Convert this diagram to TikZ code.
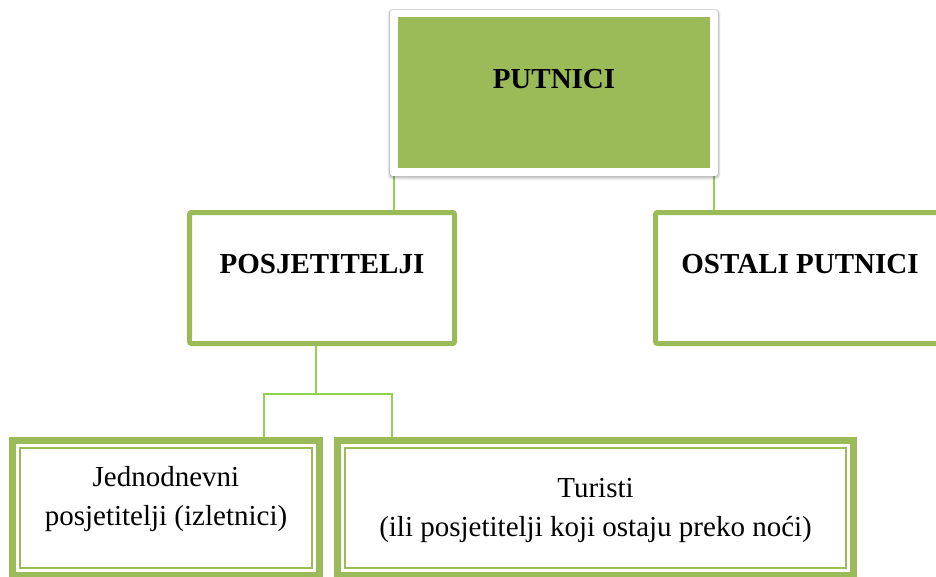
\documentclass[tikz,border=0pt]{standalone}
\usepackage{fontspec}
\setmainfont{Liberation Serif}
\usetikzlibrary{calc}
\definecolor{olivegr}{RGB}{155,187,89}
\definecolor{connc}{RGB}{146,208,80}
\pgfdeclarelayer{bg}
\pgfsetlayers{bg,main}
\tikzset{
  conline/.style={draw=connc, line width=1.5pt},
  midbox/.style={draw=olivegr, fill=white, line width=5pt, rounded corners=2pt, inner sep=0pt, outer sep=0pt, anchor=north west},
  lowbox/.style={draw=olivegr, fill=white, line width=7pt, inner sep=0pt, outer sep=0pt, anchor=north west},
  innerline/.style={draw=olivegr, line width=2pt},
  boldtxt/.style={font=\fontsize{29}{39}\selectfont\bfseries, anchor=base},
  plaintxt/.style={font=\fontsize{29}{39}\selectfont, anchor=base, align=center}
}
\begin{document}
\begin{tikzpicture}[x=1pt,y=-1pt]
\clip (0,0) rectangle (936,576);
\begin{pgfonlayer}{bg}
\fill[white] (0,0) rectangle (936,576);
\end{pgfonlayer}
% shadow of top box
\foreach \i/\o in {5/0.035,4/0.045,3/0.06,2/0.075,1/0.09} {
  \fill[black, opacity=\o, rounded corners=4pt] (390-0.5*\i,10-0.2*\i) rectangle (718+0.5*\i,176+0.9*\i);
}
% top box
\node[fill=white, rounded corners=3pt, inner sep=0pt, outer sep=0pt, minimum width=328pt, minimum height=166pt, anchor=north west] (putnici) at (390,10) {};
\node[fill=olivegr, inner sep=0pt, minimum width=312pt, minimum height=151pt, anchor=north west] (putfill) at (398,17) {};
\node[boldtxt] (puttxt) at (554,88) {PUTNICI};
% middle boxes
\node[midbox, minimum width=265pt, minimum height=131pt] (posj) at (189.5,212.5) {};
\node[boldtxt] (posjtxt) at (322,273) {POSJETITELJI};
\node[midbox, minimum width=300pt, minimum height=131pt] (ostali) at (655.5,212.5) {};
\node[boldtxt] (ostalitxt) at (800,273) {OSTALI PUTNICI};
% lower boxes
\node[lowbox, minimum width=307pt, minimum height=135pt] (jed) at (12.5,440) {};
\draw[innerline] ($(jed.north west)+(7.5,7.5)$) rectangle ($(jed.south east)+(-7.5,-7.5)$);
\node[plaintxt] (jedtxt) at (166,525) {Jednodnevni\\posjetitelji (izletnici)};
\node[lowbox, minimum width=516pt, minimum height=135pt] (tur) at (337.5,440) {};
\draw[innerline] ($(tur.north west)+(7.5,7.5)$) rectangle ($(tur.south east)+(-7.5,-7.5)$);
\node[plaintxt] (turtxt) at (595.5,536) {Turisti\\(ili posjetitelji koji ostaju preko noći)};
% connectors
\begin{pgfonlayer}{bg}
\draw[conline] ([xshift=4pt]putnici.south west) -- ([xshift=4pt]putnici.south west |- posj.north);
\draw[conline] ([xshift=-4pt]putnici.south east) -- ([xshift=-4pt]putnici.south east |- ostali.north);
\coordinate (fork) at ([xshift=-6pt,yshift=-50.5pt]posj.south);
\draw[conline] ([xshift=-6pt]posj.south) -- (fork);
\draw[conline] (fork) -| ([xshift=251.5pt]jed.north west);
\draw[conline] (fork) -| ([xshift=54.5pt]tur.north west);
\end{pgfonlayer}
\end{tikzpicture}
\end{document}
